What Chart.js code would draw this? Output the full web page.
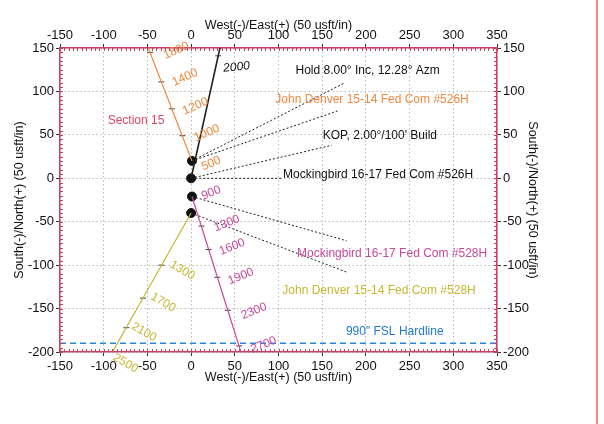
<!DOCTYPE html>
<html>
<head>
<meta charset="utf-8">
<title>Plan view</title>
<script src="https://cdn.jsdelivr.net/npm/chart.js@4/dist/chart.umd.min.js"></script>
<style>
  html, body { margin: 0; padding: 0; background: #fff; }
  #wrap { position: relative; width: 604px; height: 424px; }
  #edge { position: absolute; left: 596px; top: 0; width: 2px; height: 424px; background: #f08c8c; }
</style>
</head>
<body>
<div id="wrap">
  <canvas id="plan" width="604" height="424"></canvas>
  <div id="edge"></div>
</div>
<script>
// axis ticks (usft)
var eastTicks = [-150, -100, -50, 0, 50, 100, 150, 200, 250, 300, 350];
var northTicks = [-200, -150, -100, -50, 0, 50, 100, 150];

// wellbores, East / North
var mb526E = [0, 33];
var mb526N = [0, 150];
var jd526E = [1, -49];
var jd526N = [20, 150];
var mb528E = [1, 57];
var mb528N = [-21, -200];
var jd528E = [0, -90];
var jd528N = [-40, -200];
var hardlineE = [-150, 350];
var hardlineN = [-190, -190];
var surfaceE = [1, 0, 1, 0];
var surfaceN = [20, 0, -21, -40];

// annotation leaders
var leaderFromE = [1, 1, 0, 0, 1, 0];
var leaderFromN = [20, 20, 0, 0, -21, -40];
var leaderToE = [176, 169, 161, 103, 178, 178];
var leaderToN = [110, 78, 38, 0, -72, -108];

// annotations
var noteText = ['Hold 8.00\u00b0 Inc, 12.28\u00b0 Azm', 'John Denver 15-14 Fed Com #526H', "KOP, 2.00\u00b0/100' Build",
  'Mockingbird 16-17 Fed Com #526H', 'Mockingbird 16-17 Fed Com #528H', 'John Denver 15-14 Fed Com #528H',
  '990" FSL Hardline', 'Section 15'];
var noteE = [202, 207, 216, 214, 230, 215, 233, -63];
var noteN = [124, 90, 49, 4, -87, -129, -177, 66];

// measured depth labels along each wellbore, and the depth marks on the bores
var mb526MD = ['2000'];
var mb526MDE = [52];
var mb526MDN = [128];
var mb526MarkE = [31];
var mb526MarkN = [141];
var jd526MD = ['500', '1000', '1200', '1400', '1800'];
var jd526MDE = [23, 18, 5, -7, -17];
var jd526MDN = [17, 52, 83, 116, 147];
var jd526MarkE = [-10, -22, -34, -47];
var jd526MarkN = [49, 80, 111, 145];
var mb528MD = ['900', '1300', '1600', '1900', '2300', '2700'];
var mb528MDE = [23, 41, 47, 57, 72, 83];
var mb528MDN = [-17, -52, -79, -113, -153, -192];
var mb528MarkE = [12, 20, 30, 42, 55];
var mb528MarkN = [-55, -82, -114, -152, -193];
var jd528MD = ['1300', '1700', '2100', '2500'];
var jd528MDE = [-10, -32, -54, -75];
var jd528MDN = [-106, -143, -177, -213];
var jd528MarkE = [-34, -55, -74];
var jd528MarkN = [-100, -138, -172];

var BLACK = '#111', ORANGE = '#f0883e', MAGENTA = '#c8489c', OLIVE = '#c9b630', BLUE = '#1f78d1', CRIMSON = '#e0456a';
var FRAME = '#cc3f62';
var FONT = 'Liberation Sans, Arial, sans-serif';
var noteColor = [BLACK, ORANGE, BLACK, BLACK, MAGENTA, OLIVE, BLUE, CRIMSON];

function pts(es, ns) {
  return es.map(function (e, i) { return { x: e, y: ns[i] }; });
}

function line(es, ns, color, width, dash) {
  return { data: pts(es, ns), showLine: true, borderColor: color, borderWidth: width,
    borderDash: dash || [], pointRadius: 0, fill: false };
}

function marks(es, ns) {
  return { data: pts(es, ns), showLine: false, pointStyle: 'line', pointRadius: 3,
    pointBorderWidth: 1, pointBorderColor: '#444' };
}

var datasets = [
  line(hardlineE, hardlineN, '#2a86e0', 1.6, [6, 4]),
  line(jd526E, jd526N, ORANGE, 1.2),
  line(mb528E, mb528N, MAGENTA, 1.2),
  line(jd528E, jd528N, OLIVE, 1.2),
  line(mb526E, mb526N, '#222', 1.6),
  marks(jd526MarkE, jd526MarkN),
  marks(mb528MarkE, mb528MarkN),
  marks(jd528MarkE, jd528MarkN),
  marks(mb526MarkE, mb526MarkN)
];
leaderToE.forEach(function (e, i) {
  datasets.push(line([leaderFromE[i], e], [leaderFromN[i], leaderToN[i]], '#222', 1, [2, 2]));
});
datasets.push({ data: pts(surfaceE, surfaceN), showLine: false, pointRadius: 4.5,
  pointBackgroundColor: '#111', pointBorderColor: '#111' });

function makeAxis(position, list, titleText, titlePad, size, tickPad) {
  var horizontal = position === 'top' || position === 'bottom';
  return {
    type: 'linear',
    position: position,
    min: list[0],
    max: list[list.length - 1],
    afterBuildTicks: function (s) { s.ticks = list.map(function (v) { return { value: v }; }); },
    afterFit: function (s) { if (horizontal) s.height = size; else s.width = size; },
    ticks: {
      autoSkip: false, maxRotation: 0, minRotation: 0, padding: tickPad,
      color: '#111', font: { family: FONT, size: 13 }
    },
    grid: {
      drawOnChartArea: position === 'bottom' || position === 'left',
      color: '#b8b8b8',
      lineWidth: 1,
      tickLength: 4,
      tickWidth: 1,
      tickColor: '#333'
    },
    border: { display: true, color: FRAME, width: 1.5, dash: [1.5, 2.5] },
    title: { display: true, text: titleText, color: '#111', padding: titlePad,
      font: { family: FONT, size: 12.5 } }
  };
}

// short inward ticks every 5 usft along the frame
var minorPlugin = {
  id: 'minor',
  afterDraw: function (chart) {
    var ctx = chart.ctx, a = chart.chartArea, xs = chart.scales.x, ys = chart.scales.y, v, p;
    ctx.save();
    ctx.strokeStyle = FRAME;
    ctx.lineWidth = 1;
    ctx.beginPath();
    for (v = xs.min; v <= xs.max; v += 5) {
      p = Math.round(xs.getPixelForValue(v)) + 0.5;
      ctx.moveTo(p, a.top); ctx.lineTo(p, a.top + 3);
      ctx.moveTo(p, a.bottom); ctx.lineTo(p, a.bottom - 3);
    }
    for (v = ys.min; v <= ys.max; v += 5) {
      p = Math.round(ys.getPixelForValue(v)) + 0.5;
      ctx.moveTo(a.left, p); ctx.lineTo(a.left + 3, p);
      ctx.moveTo(a.right, p); ctx.lineTo(a.right - 3, p);
    }
    ctx.stroke();
    ctx.restore();
  }
};

function drawLabels(chart, texts, es, ns, color, angle, font) {
  var ctx = chart.ctx, xs = chart.scales.x, ys = chart.scales.y;
  texts.forEach(function (t, i) {
    ctx.save();
    ctx.translate(xs.getPixelForValue(es[i]), ys.getPixelForValue(ns[i]));
    ctx.rotate(angle * Math.PI / 180);
    ctx.font = font;
    ctx.fillStyle = Array.isArray(color) ? color[i] : color;
    ctx.textAlign = 'center';
    ctx.textBaseline = 'middle';
    ctx.fillText(t, 0, 0);
    ctx.restore();
  });
}

var notesPlugin = {
  id: 'notes',
  afterDatasetsDraw: function (chart) {
    var f = '12px ' + FONT;
    drawLabels(chart, noteText, noteE, noteN, noteColor, 0, f);
    drawLabels(chart, mb526MD, mb526MDE, mb526MDN, BLACK, -6, 'italic 12px ' + FONT);
    drawLabels(chart, jd526MD, jd526MDE, jd526MDN, ORANGE, -24, f);
    drawLabels(chart, mb528MD, mb528MDE, mb528MDN, MAGENTA, -22, f);
    drawLabels(chart, jd528MD, jd528MDE, jd528MDN, OLIVE, 30, f);
  }
};

new Chart(document.getElementById('plan').getContext('2d'), {
  type: 'scatter',
  data: { datasets: datasets },
  options: {
    responsive: false,
    animation: false,
    layout: { padding: { left: 8, top: 14, right: 64, bottom: 39 } },
    plugins: { legend: { display: false }, tooltip: { enabled: false } },
    scales: {
      x: makeAxis('bottom', eastTicks, 'West(-)/East(+) (50 usft/in)', { top: 0, bottom: 0 }, 33, 3),
      xTop: makeAxis('top', eastTicks, 'West(-)/East(+) (50 usft/in)', { top: 4, bottom: 0 }, 34, 1),
      y: makeAxis('left', northTicks, 'South(-)/North(+) (50 usft/in)', { top: 4, bottom: 0 }, 52, 2),
      yRight: makeAxis('right', northTicks, 'South(-)/North(+) (50 usft/in)', { top: 0, bottom: 0 }, 43, 2)
    }
  },
  plugins: [notesPlugin, minorPlugin]
});
</script>
</body>
</html>
